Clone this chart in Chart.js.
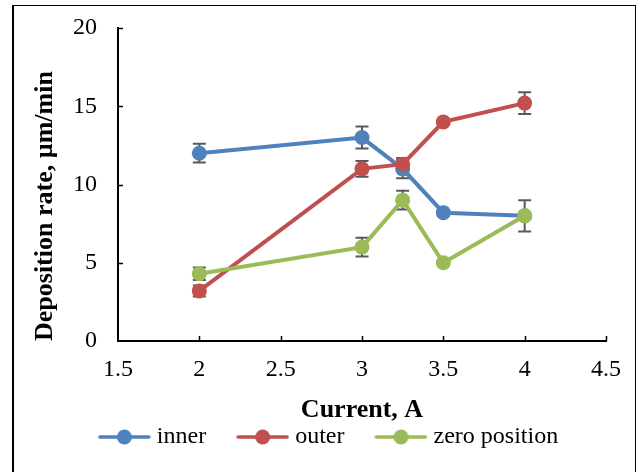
<!DOCTYPE html>
<html>
<head>
<meta charset="utf-8">
<script src="https://cdn.jsdelivr.net/npm/chart.js@4.4.1/dist/chart.umd.min.js"></script>
<style>
  html, body { margin: 0; padding: 0; background: #fff; }
  #frame {
    position: absolute; left: 12px; top: 5px; width: 621px; height: 480px;
    border-left: 2px solid #000; border-top: 1px solid #000; border-right: 1.5px solid #000;
  }
  #wrap { position: absolute; left: 0; top: 0; width: 637px; height: 472px; }
</style>
</head>
<body>
<div id="frame"></div>
<div id="wrap"><canvas id="chart" width="637" height="472"></canvas></div>
<script>
// Data
const currents = [2, 3, 3.25, 3.5, 4];
const innerRate = [12.0, 13.0, 11.0, 8.2, 8.0];
const outerRate = [3.2, 11.0, 11.3, 14.0, 15.2];
const zeroRate = [4.3, 6.0, 9.0, 5.0, 8.0];
const innerErr = [0.6, 0.7, 0.6, 0, 0];
const outerErr = [0.35, 0.5, 0.4, 0, 0.7];
const zeroErr = [0.4, 0.6, 0.6, 0, 1.0];
const xTickValues = [1.5, 2, 2.5, 3, 3.5, 4, 4.5];
const yTickValues = [0, 5, 10, 15, 20];

const FONT = '"Liberation Serif", "Times New Roman", serif';
const colors = { inner: '#4F81BD', outer: '#C0504D', zero: '#9BBB59' };

// small line + dot image for legend entries
function legendMarker(color) {
  const c = document.createElement('canvas');
  c.width = 53; c.height = 16;
  const g = c.getContext('2d');
  g.strokeStyle = color;
  g.lineWidth = 3.5;
  g.lineCap = 'round';
  g.beginPath(); g.moveTo(2, 8); g.lineTo(51, 8); g.stroke();
  g.fillStyle = color;
  g.beginPath(); g.arc(26.5, 8, 7.5, 0, Math.PI * 2); g.fill();
  return c;
}

function series(label, values, errs, color, order) {
  return {
    label: label,
    data: currents.map((x, i) => ({ x: x, y: values[i] })),
    errors: errs,
    borderColor: color,
    backgroundColor: color,
    pointBackgroundColor: color,
    pointBorderWidth: 0,
    pointRadius: 7.5,
    pointHoverRadius: 7.5,
    borderWidth: 4,
    tension: 0,
    order: order,
    legendImage: legendMarker(color)
  };
}

// error bars, drawn under the points
const errorBars = {
  id: 'errorBars',
  beforeDatasetsDraw(chart) {
    const ctx = chart.ctx;
    const xs = chart.scales.x, ys = chart.scales.y;
    ctx.save();
    ctx.strokeStyle = '#595959';
    ctx.lineWidth = 2;
    chart.data.datasets.forEach(ds => {
      ds.data.forEach((p, i) => {
        const e = ds.errors[i];
        if (!e) return;
        const px = xs.getPixelForValue(p.x);
        const top = ys.getPixelForValue(p.y + e);
        const bot = ys.getPixelForValue(p.y - e);
        ctx.beginPath();
        ctx.moveTo(px, top); ctx.lineTo(px, bot);
        ctx.moveTo(px - 6.5, top); ctx.lineTo(px + 6.5, top);
        ctx.moveTo(px - 6.5, bot); ctx.lineTo(px + 6.5, bot);
        ctx.stroke();
      });
    });
    ctx.restore();
  }
};

// tick marks pointing into the plot area
const insideTicks = {
  id: 'insideTicks',
  afterDraw(chart) {
    const ctx = chart.ctx;
    const xs = chart.scales.x, ys = chart.scales.y;
    const area = chart.chartArea;
    ctx.save();
    ctx.strokeStyle = '#000';
    ctx.lineWidth = 1.5;
    ctx.beginPath();
    xTickValues.slice(1).forEach(v => {
      const px = Math.round(xs.getPixelForValue(v)) + 0.5;
      ctx.moveTo(px, area.bottom); ctx.lineTo(px, area.bottom - 5);
    });
    yTickValues.slice(1).forEach(v => {
      const py = Math.round(ys.getPixelForValue(v)) + 0.5;
      ctx.moveTo(area.left, py); ctx.lineTo(area.left + 5, py);
    });
    ctx.stroke();
    ctx.restore();
  }
};

// the legend in the reference sits a little right of centre
const legendShift = {
  id: 'legendShift',
  afterLayout(chart) {
    chart.legend.left += 28;
    chart.legend.right += 28;
  }
};

new Chart(document.getElementById('chart'), {
  type: 'line',
  data: {
    datasets: [
      series('inner', innerRate, innerErr, colors.inner, 3),
      series('outer', outerRate, outerErr, colors.outer, 2),
      series('zero position', zeroRate, zeroErr, colors.zero, 1)
    ]
  },
  options: {
    responsive: false,
    animation: false,
    events: [],
    layout: { padding: { top: 28, right: 31, bottom: 13, left: 0 } },
    scales: {
      x: {
        type: 'linear',
        min: 1.5, max: 4.5,
        afterBuildTicks: s => { s.ticks = xTickValues.map(v => ({ value: v })); },
        afterFit: s => { s.height = 48; },
        grid: { display: false, drawTicks: false, tickLength: 0 },
        border: { display: true, color: '#000', width: 2 },
        ticks: {
          color: '#000', padding: 14, maxRotation: 0,
          font: { family: FONT, size: 24 },
          callback: v => String(v)
        },
        title: {
          display: true, text: 'Current, A', color: '#000',
          font: { family: FONT, size: 26, weight: 'bold' },
          padding: { top: 0, bottom: -36.6 }
        }
      },
      y: {
        min: 0, max: 20,
        afterBuildTicks: s => { s.ticks = yTickValues.map(v => ({ value: v })); },
        // fixed width; drop the label padding so the plot top stays at the layout padding
        afterFit: s => { s.width = 118; s.paddingTop = 0; s.paddingBottom = 0; },
        grid: { display: false, drawTicks: false, tickLength: 0 },
        border: { display: true, color: '#000', width: 2 },
        ticks: {
          color: '#000', padding: 21,
          font: { family: FONT, size: 24 },
          callback: v => String(v)
        },
        title: {
          display: true, text: 'Deposition rate, µm/min', color: '#000',
          align: 'start',
          font: { family: FONT, size: 26, weight: 'bold' },
          padding: { top: 30, bottom: 0 }
        }
      }
    },
    plugins: {
      tooltip: { enabled: false },
      legend: {
        position: 'bottom',
        labels: {
          color: '#000',
          font: { family: FONT, size: 24 },
          usePointStyle: true,
          pointStyleWidth: 41,
          padding: 36,
          sort: (a, b) => a.datasetIndex - b.datasetIndex,
          generateLabels: chart => chart.data.datasets.map((ds, i) => ({
            text: ds.label,
            fillStyle: ds.borderColor,
            strokeStyle: ds.borderColor,
            fontColor: '#000',
            lineWidth: 0,
            pointStyle: ds.legendImage,
            hidden: false,
            datasetIndex: i
          }))
        }
      }
    }
  },
  plugins: [errorBars, insideTicks, legendShift]
});
</script>
</body>
</html>
